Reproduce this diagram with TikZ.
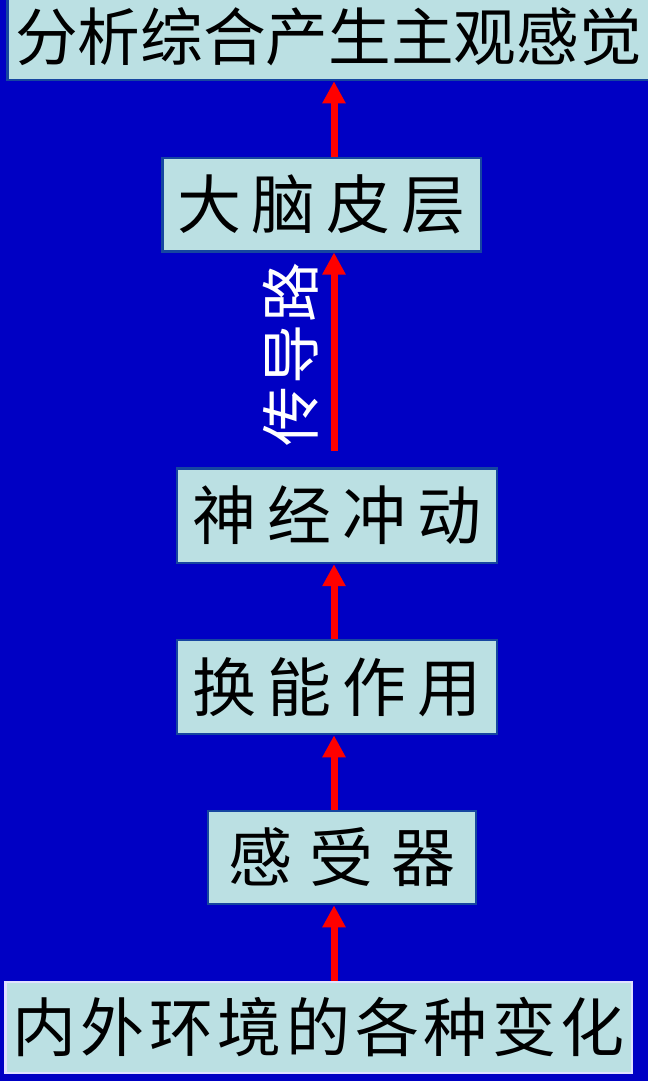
\documentclass[tikz,border=0pt]{standalone}
\usepackage{fontspec}
\newfontfamily\cjk{Noto Sans CJK SC}
\usetikzlibrary{arrows.meta,calc}
\definecolor{bgblue}{RGB}{0,0,196}
\definecolor{boxfill}{RGB}{187,224,227}
\definecolor{boxedge}{RGB}{22,70,160}
\definecolor{arrowred}{RGB}{255,0,0}
\definecolor{paleedge}{RGB}{225,225,255}
\begin{document}
\begin{tikzpicture}[x=0.75pt,y=-0.75pt,
  box/.style={draw=boxedge, line width=2pt, fill=boxfill, inner sep=0pt, text=black,
              font=\cjk\fontsize{48}{48}\selectfont},
  bigbox/.style={box, font=\cjk\fontsize{47}{47}\selectfont},
  arr/.style={draw=arrowred, line width=5.25pt, -{Triangle[width=16.5pt,length=16.5pt]}},
  lbl/.style={text=white, inner sep=0pt, font=\cjk\fontsize{45}{45}\selectfont}]
\fill[bgblue] (0,0) rectangle (648,1081);
\useasboundingbox (0,0) rectangle (648,1081);

\node[bigbox, minimum width=482pt, minimum height=64.5pt] (fx) at (328.5,37)
  {分析综合产生主观感觉};
\node[box, minimum width=239pt, minimum height=70pt] (dn) at (321.5,204.5)
  {大\hspace{8.2pt}脑\hspace{8.2pt}皮\hspace{8.2pt}层};
\node[box, minimum width=240pt, minimum height=71pt] (sj) at (337,515.5)
  {神\hspace{8.2pt}经\hspace{8.2pt}冲\hspace{8.2pt}动};
\node[box, minimum width=240pt, minimum height=70.5pt] (hn) at (337,687)
  {换\hspace{8.2pt}能\hspace{8.2pt}作\hspace{8.2pt}用};
\node[box, minimum width=201pt, minimum height=69.75pt] (sq) at (342,857.5)
  {感\hspace{13.5pt}受\hspace{13.5pt}器};
\node[box, draw=paleedge, minimum width=470pt, minimum height=68.25pt] (nw) at (318.5,1027.5)
  {内\hspace{3.4pt}外\hspace{3.4pt}环\hspace{3.4pt}境\hspace{3.4pt}的\hspace{3.4pt}各\hspace{3.4pt}种\hspace{3.4pt}变\hspace{3.4pt}化};

\coordinate (ax) at (334,0);
\draw[arr] (dn.north -| ax) -- (fx.south -| ax);
\draw[arr] ($(sj.north -| ax)+(0,-16)$) -- (dn.south -| ax);
\draw[arr] (hn.north -| ax) -- (sj.south -| ax);
\draw[arr] (sq.north -| ax) -- (hn.south -| ax);
\draw[arr] (nw.north -| ax) -- (sq.south -| ax);

\node[lbl, rotate=90] (cdl) at (291,354) {传\hspace{1.5pt}导\hspace{1.5pt}路};
\end{tikzpicture}
\end{document}
